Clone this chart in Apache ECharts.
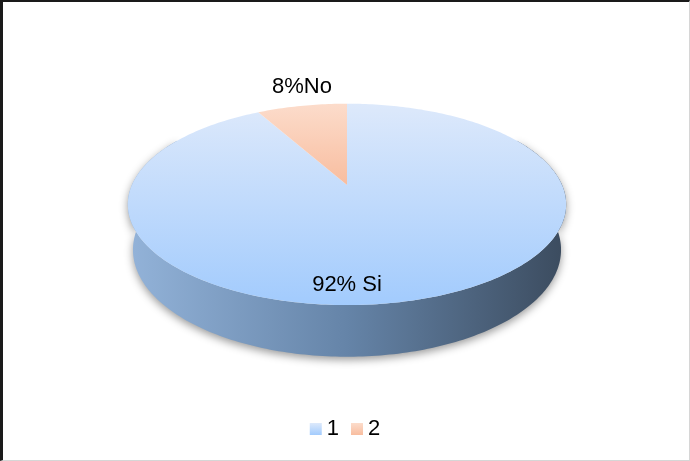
<!DOCTYPE html>
<html>
<head>
<meta charset="utf-8">
<script src="https://cdn.jsdelivr.net/npm/echarts@6/dist/echarts.min.js"></script>
<style>
  html, body { margin: 0; padding: 0; background: #fff; }
  #chart { position: absolute; left: 0; top: 0; width: 690px; height: 461px; }
  #frame {
    position: absolute; left: 0; top: 0; width: 690px; height: 461px;
    box-sizing: border-box; pointer-events: none;
    border-top: 2px solid #1a1a1a; border-left: 3px solid #1a1a1a;
    border-right: 1px solid #d6d6d6; border-bottom: 1px solid #d6d6d6;
  }
</style>
</head>
<body>
<div id="chart"></div>
<div id="frame"></div>
<script>
// Survey answers
const categories = ['1', '2'];
const values = [92, 8];
const labelNames = ['Si', 'No'];
const labelSeps = [' ', ''];

// Top-face and wall colours per slice
const topColors = [
  ['#dde9fb', '#a2cbfd'],
  ['#fcdccb', '#f8bd9f']
];
const wallColors = [
  ['#93b3d9', '#6584a8', '#3b4b5e'],
  ['#e8b08f', '#b97a58', '#7a4a32']
];

// Camera for the tilted disc (perspective projection)
const view = {
  cx: 347, cy: 185, f: 998, dist: 4.64,
  tilt: 26.8 * Math.PI / 180, depth: 0.238
};

function project(theta, r, h) {
  const u = r * Math.sin(theta);
  const w = -r * Math.cos(theta);
  const sa = Math.sin(view.tilt), ca = Math.cos(view.tilt);
  const Y = w * sa + h * ca;
  const Z = view.dist - w * ca + h * sa;
  return [view.cx + view.f * u / Z, view.cy + view.f * Y / Z];
}

function arc(a0, a1, r, h) {
  const pts = [];
  const n = Math.max(2, Math.ceil((a1 - a0) / (Math.PI / 180)));
  for (let k = 0; k <= n; k++) pts.push(project(a0 + (a1 - a0) * k / n, r, h));
  return pts;
}

const total = values.reduce((a, b) => a + b, 0);
function sliceAngles(i) {
  let before = 0;
  for (let k = 0; k < i; k++) before += values[k];
  return [before / total * 2 * Math.PI, (before + values[i]) / total * 2 * Math.PI];
}

function vGrad(c) {
  return new echarts.graphic.LinearGradient(0, 0, 0, 1, [
    { offset: 0, color: c[0] }, { offset: 1, color: c[1] }
  ]);
}

function renderSlice(params, api) {
  const i = params.seriesIndex;
  const v = api.value(0);
  const [a0, a1] = sliceAngles(i);
  const children = [];

  // outer wall, only the part facing the viewer
  const w0 = Math.max(a0, Math.PI / 3), w1 = Math.min(a1, Math.PI * 5 / 3);
  if (w1 > w0) {
    const topEdge = arc(w0, w1, 1, 0);
    const botEdge = arc(w0, w1, 1, view.depth).reverse();
    children.push({
      type: 'polygon',
      shape: { points: topEdge.concat(botEdge) },
      style: {
        fill: new echarts.graphic.LinearGradient(0, 0, 1, 0, [
          { offset: 0, color: wallColors[i][0] },
          { offset: 0.5, color: wallColors[i][1] },
          { offset: 1, color: wallColors[i][2] }
        ]),
        shadowBlur: 9, shadowColor: 'rgba(0,0,0,0.4)', shadowOffsetY: 3
      }
    });
  }

  // top face
  children.push({
    type: 'polygon',
    shape: { points: [project(0, 0, 0)].concat(arc(a0, a1, 1, 0)) },
    style: { fill: vGrad(topColors[i]) }
  });

  // value label: small slices outside above the rim, large ones on the
  // front-most part of the slice
  const outside = v / total < 0.15;
  let p;
  if (outside) {
    p = project((a0 + a1) / 2, 1, 0);
    p = [p[0], p[1] - 19];
  } else {
    const front = (a0 <= Math.PI && a1 >= Math.PI) ? Math.PI : (a0 + a1) / 2;
    p = project(front, 0.86, 0);
  }
  children.push({
    type: 'text',
    x: p[0], y: p[1],
    style: {
      text: v + '%' + labelSeps[i] + labelNames[i],
      fill: '#000', fontSize: 22, fontFamily: 'Liberation Sans, Arial, sans-serif',
      align: 'center', verticalAlign: 'middle'
    }
  });

  return { type: 'group', children: children };
}

const chart = echarts.init(document.getElementById('chart'), null, { renderer: 'canvas' });
chart.setOption({
  animation: false,
  backgroundColor: '#fff',
  legend: {
    data: categories,
    left: 'center',
    top: 413,
    icon: 'rect',
    itemWidth: 12,
    itemHeight: 12,
    itemGap: 12,
    textStyle: { fontSize: 22, color: '#000', fontFamily: 'Liberation Sans, Arial, sans-serif' }
  },
  series: categories.map((name, i) => ({
    type: 'custom',
    name: name,
    coordinateSystem: 'none',
    z: 2 + i,
    itemStyle: { color: vGrad(topColors[i]) },
    renderItem: renderSlice,
    data: [[values[i]]]
  }))
});
</script>
</body>
</html>
